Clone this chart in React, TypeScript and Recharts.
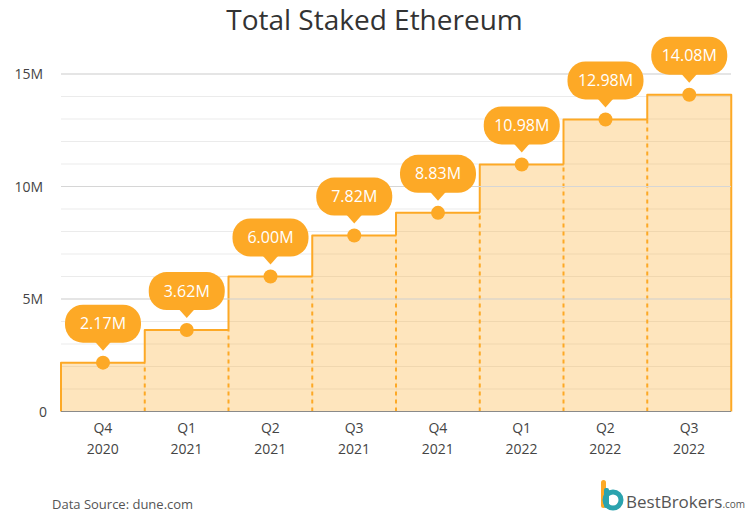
import React from "react";
import {
  ComposedChart,
  Bar,
  XAxis,
  YAxis,
  CartesianGrid,
  ReferenceLine,
  LabelList,
} from "recharts";

const QUARTERS = ["Q4", "Q1", "Q2", "Q3", "Q4", "Q1", "Q2", "Q3"];
const YEARS = ["2020", "2021", "2021", "2021", "2021", "2022", "2022", "2022"];
// staked ETH, millions
const STAKED = [2.17, 3.62, 6.0, 7.82, 8.83, 10.98, 12.98, 14.08];
const MINOR_TICKS = [0, 1, 2, 3, 4, 5, 6, 7, 8, 9, 10, 11, 12, 13, 14, 15];
const MAJOR_TICKS = [5, 10, 15];

const ORANGE = "#FDA926";
const FONT = "'Open Sans', sans-serif";

const data = STAKED.map((v, i) => ({
  name: QUARTERS[i] + " " + YEARS[i],
  quarter: QUARTERS[i],
  year: YEARS[i],
  value: v,
}));

function StepShape(props: any) {
  const { x, y, width, height, index } = props;
  const value = STAKED[index];
  const prev = index > 0 ? STAKED[index - 1] : 0;
  const base = y + height;
  const prevY = base - (height * prev) / value;
  const last = index === STAKED.length - 1;
  let d = `M${x},${prevY} L${x},${y} L${x + width},${y}`;
  if (last) d += ` L${x + width},${base}`;
  return (
    <g>
      <rect x={x} y={y} width={width} height={height} fill={ORANGE} fillOpacity={0.3} />
      {index > 0 && (
        <line
          x1={x}
          y1={base}
          x2={x}
          y2={prevY}
          stroke={ORANGE}
          strokeWidth={2}
          strokeDasharray="4 4"
        />
      )}
      <path d={d} fill="none" stroke={ORANGE} strokeWidth={2} strokeLinejoin="round" />
    </g>
  );
}

function Bubble(props: any) {
  const { x, y, width, value } = props;
  const cx = x + width / 2;
  const bw = 76;
  const bh = 38;
  const bottom = y - 20;
  const top = bottom - bh;
  return (
    <g>
      <circle cx={cx} cy={y} r={7} fill={ORANGE} />
      <rect x={cx - bw / 2} y={top} width={bw} height={bh} rx={18} fill={ORANGE} />
      <path d={`M${cx - 8},${bottom - 1} L${cx + 8},${bottom - 1} L${cx},${bottom + 8} Z`} fill={ORANGE} />
      <text
        x={cx}
        y={top + bh / 2 + 5.5}
        textAnchor="middle"
        fill="#fff"
        fontSize={16}
        fontFamily={FONT}
      >
        {Number(value).toFixed(2)}M
      </text>
    </g>
  );
}

function XTick(props: any) {
  const { x, y, index } = props;
  return (
    <g>
      <text x={x} y={y + 21} textAnchor="middle" fill="#444" fontSize={14} fontFamily={FONT}>
        {QUARTERS[index]}
      </text>
      <text x={x} y={y + 42} textAnchor="middle" fill="#444" fontSize={14} fontFamily={FONT}>
        {YEARS[index]}
      </text>
    </g>
  );
}

function YTick(props: any) {
  const { y, payload } = props;
  const v = payload.value;
  if (v !== 0 && !MAJOR_TICKS.includes(v)) return null;
  return (
    <text x={v === 0 ? 47 : 43} y={y + 5} textAnchor="end" fill="#444" fontSize={14} fontFamily={FONT}>
      {v === 0 ? "0" : v + "M"}
    </text>
  );
}

export default function App() {
  return (
    <div
      style={{
        position: "absolute",
        left: 0,
        top: 0,
        width: 749,
        height: 522,
        background: "#fff",
        fontFamily: FONT,
      }}
    >
      <div
        style={{
          position: "absolute",
          top: 0,
          width: 749,
          textAlign: "center",
          fontSize: 28,
          color: "#333",
          fontWeight: 500,
        }}
      >
        Total Staked Ethereum
      </div>

      <ComposedChart
        width={749}
        height={522}
        data={data}
        margin={{ top: 74, right: 18, left: 0, bottom: 0 }}
        barCategoryGap={0}
        barGap={0}
      >
        <CartesianGrid
          vertical={false}
          horizontalValues={MINOR_TICKS}
          stroke="#ebebeb"
        />
        {MAJOR_TICKS.map((t) => (
          <ReferenceLine key={t} y={t} stroke="#d6d6d6" strokeWidth={1.2} />
        ))}
        <XAxis
          dataKey="name"
          height={110.5}
          tickLine={false}
          tickSize={0}
          tickMargin={0}
          axisLine={{ stroke: "#8a8a8a", strokeWidth: 1 }}
          tick={<XTick />}
          interval={0}
        />
        <YAxis
          width={61}
          domain={[0, 15]}
          ticks={MINOR_TICKS}
          axisLine={false}
          tickLine={false}
          tick={<YTick />}
          interval={0}
        />
        <Bar dataKey="value" shape={<StepShape />} isAnimationActive={false}>
          <LabelList dataKey="value" content={<Bubble />} />
        </Bar>
      </ComposedChart>

      <div
        style={{
          position: "absolute",
          left: 52,
          top: 495,
          fontSize: 13,
          color: "#555",
        }}
      >
        Data Source: dune.com
      </div>

      <svg
        style={{ position: "absolute", left: 598, top: 478 }}
        width={30}
        height={34}
      >
        <rect x={3} y={2} width={5} height={28} rx={2.5} fill={ORANGE} />
        <circle cx={15} cy={22} r={8} fill="none" stroke="#2BA3AE" strokeWidth={5} />
        <rect x={6} y={10} width={5} height={20} rx={2} fill="#2BA3AE" />
      </svg>
      <div
        style={{
          position: "absolute",
          left: 626,
          top: 490,
          fontSize: 17,
          color: "#555",
          whiteSpace: "nowrap",
        }}
      >
        BestBrokers<span style={{ fontSize: 10 }}>.com</span>
      </div>
    </div>
  );
}
